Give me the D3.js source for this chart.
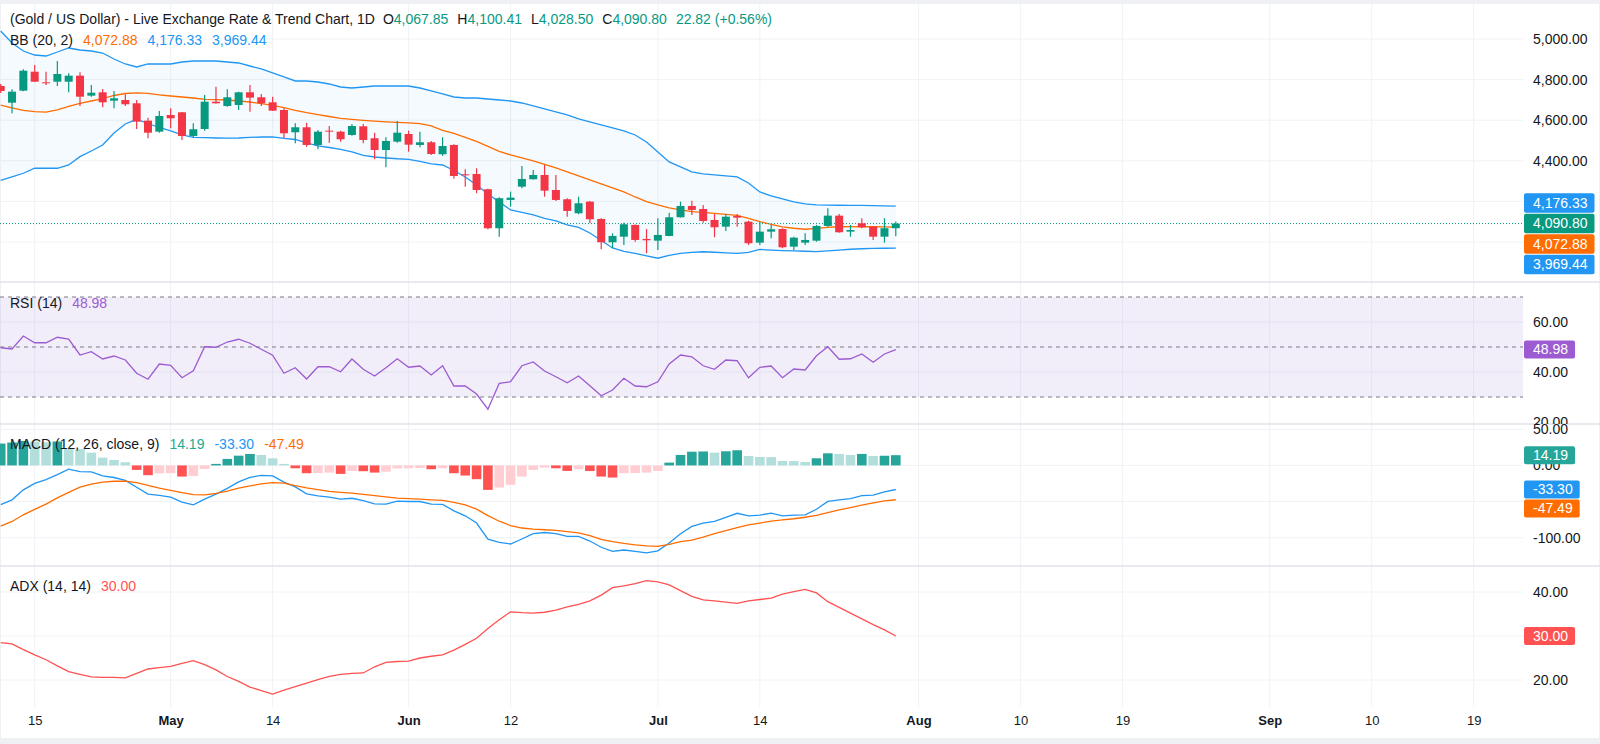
<!DOCTYPE html>
<html lang="en">
<head>
    <meta charset="UTF-8">
    <title>Gold / US Dollar - 1D</title>
    <style>
        body { margin: 0; background: #fff; }
        svg { display: block; font-family: "Liberation Sans", Arial, sans-serif; }
    </style>
</head>
<body>
    <svg id="chart" width="1600" height="744"></svg>

<script src="https://cdn.jsdelivr.net/npm/d3@7"></script>
<script>

    // daily candles, Apr 10 .. Jul 30
    let opens = [4768.5,4686.3,4745.4,4839,4786.7,4789.7,4789.7,4819.3,4720.8,4737.5,
        4696.1,4699.6,4683.3,4597.6,4543.5,4625.7,4639,4522.3,4556.7,4691.2,
        4670,4675,4737.5,4712.9,4688.2,4650.3,4540.5,4565.1,4478,4548.4,
        4543.5,4527.2,4570,4511,4453.3,4494.2,4532.1,4478,4491.2,4432.2,
        4478,4333.6,4335.1,4259.8,4067.7,4207.1,4272.6,4309,4330.2,4256.3,
        4210.5,4141.6,4198.7,4113.5,3998.7,4026.3,4084,4015,4006.6,4029.8,
        4121.9,4177.5,4162.7,4108.6,4075.6,4128.3,4100.2,3996.8,4051,4064.2,
        3977.1,3996.8,4006.6,4079,4129.8,4051,4092.3,4075.6,4026.3,4067.85]
    let highs = [4778.4,4752.3,4850.8,4872,4839,4891.6,4831.1,4836,4773.4,4753.8,
        4743.9,4727.6,4699.6,4612.4,4645.4,4658.7,4641,4584.8,4724.2,4765.1,
        4752.3,4740.5,4773.4,4729.1,4715.8,4658.7,4584.8,4587.8,4551.8,4571.5,
        4548.4,4581.4,4581.4,4538.5,4515.9,4596.1,4548.4,4543.5,4497.6,4515.9,
        4481.4,4358.3,4363.2,4262,4220.4,4248,4374.5,4354.8,4379.4,4330.2,
        4215.4,4223.3,4202.1,4116.5,4043.1,4095.3,4086,4064.2,4117,4144.5,
        4198.7,4203.6,4182.4,4138.1,4138.1,4138.1,4105.1,4100.2,4084,4067.7,
        4026.3,4043.1,4084,4166.2,4138.1,4084,4117,4078,4117,4100.41]
    let lows = [4734,4634.1,4742.4,4788,4773.4,4768.5,4737.5,4670,4715.8,4663.6,
        4658.7,4670,4556.7,4511,4538.5,4560.2,4502.6,4515.9,4548.4,4682,
        4666.6,4650.3,4642,4670,4645,4511,4486.3,4469.6,4456.8,4489.3,
        4494.2,4523.8,4486.3,4407.5,4368.1,4489.3,4445,4466.6,4428.7,4423.8,
        4312,4272.6,4240.1,4062.8,4026.3,4174.1,4264.7,4308,4223.3,4202.1,
        4124.8,4136.6,4092.3,3964.3,3969.2,3985.4,4001.7,3944.6,3960.8,4028,
        4120,4133.2,4095.3,4023.4,4054.4,4075.6,3985.4,3985.4,4018.4,3969.2,
        3960.8,3985.4,4001.7,4075.6,4046,4026.3,4067.7,4010.1,3996.8,4028.5]
    let closes = [4743.9,4740.5,4843.9,4789.7,4781.8,4827.6,4819.3,4715.8,4735.5,4688.2,
        4708,4678.4,4592.7,4538.5,4620.8,4609.4,4522.3,4555.3,4691.2,4683.3,
        4712.9,4737.5,4710.9,4683.3,4646.9,4535.6,4565.1,4478,4543.5,4543.5,
        4506,4571.5,4502.6,4453.3,4497.6,4538.5,4479.4,4491.2,4433.6,4473,
        4325.3,4328.7,4256.3,4067.7,4215.4,4218.4,4310.5,4330.2,4252.9,4207.1,
        4152.9,4190.8,4112,3998.7,4029.8,4087.4,4010.1,4008.5,4034.7,4121.9,
        4177.5,4157.8,4103.6,4072.6,4124.8,4119.9,3993.8,4051,4062.8,3974.1,
        4021.4,4010.1,4079,4129.8,4048,4059.3,4072.6,4026.3,4067.98,4090.80]

    // Bollinger Bands (20, 2)
    let bbUpper = [5039.4,4980.3,4940.9,4921.2,4916.3,4936,4955.7,4945.8,4940.9,4931,
        4901.5,4876.9,4862.1,4876.9,4876.9,4876.9,4886.7,4891.7,4891.7,4891.7,
        4886.7,4881.8,4867,4852.3,4832.6,4812.9,4793.2,4793.2,4788.2,4778.4,
        4763.6,4758.6,4763.6,4768.5,4768.5,4768.5,4768.5,4758.6,4743.9,4729.1,
        4714.3,4709.4,4709.4,4704.5,4699.6,4694.6,4684.8,4670,4655.2,4640.5,
        4625.7,4606,4591.3,4576.5,4561.7,4547,4527.2,4492.8,4443.5,4394.3,
        4369.7,4345,4335.2,4330.2,4325.3,4320.4,4290.8,4246.5,4226.8,4212,
        4197.2,4187.4,4182.4,4181.5,4181,4180.5,4180,4179,4178,4176.33]
    let bbBasis = [4674,4660.2,4647.9,4642,4639.5,4650.3,4667.6,4683.3,4694.6,4706.5,
        4721.7,4731.6,4735,4732.1,4725.2,4719.3,4714.3,4709.4,4702.5,4701.1,
        4699.6,4694.6,4689.7,4681.8,4672.5,4661.7,4647.9,4637,4627.7,4618.3,
        4609.4,4604,4599.1,4595.2,4592.2,4589.7,4587.3,4583.3,4571.5,4549.4,
        4534.6,4514.9,4495.2,4470.6,4446.9,4428.7,4414.9,4399.1,4381.9,4364.7,
        4345,4325.3,4305.6,4285.9,4266.2,4246.5,4221.8,4199.2,4182.4,4167.7,
        4157.8,4149.9,4145.5,4140.6,4135.7,4130.7,4116,4100.2,4086.4,4074.1,
        4067.7,4062.8,4066.7,4071.6,4075.1,4075.6,4075.1,4075.1,4074.1,4072.88]
    let bbLower = [4303.1,4320.3,4338.6,4363.2,4363.2,4363.2,4379.4,4420.3,4448.4,4477.9,
        4537,4581.4,4604.5,4583.8,4564.1,4546.9,4527.2,4514.9,4513.9,4512.4,
        4511.4,4512.4,4514.9,4517.3,4518.3,4510,4505,4487.8,4473,4465.6,
        4456.8,4443.5,4426.2,4418.8,4413.9,4410,4407.5,4396.7,4384.4,4379.4,
        4352.4,4320.3,4280.9,4236.6,4197.2,4157.8,4145.5,4133.2,4116,4103.6,
        4084,4071.6,4044.5,4007.6,3970.7,3953.4,3943.6,3931.3,3920,3933.7,
        3943.6,3948.5,3952,3949.5,3946,3943.6,3948.5,3963.3,3959.8,3957.4,
        3955.9,3954.4,3952.9,3955.9,3959.8,3964.3,3966.7,3968.2,3969.2,3969.44]

    // RSI (14)
    let rsi = [49.7,49.2,54.4,51.7,51.7,53.9,53.2,46.8,48.1,45.2,
        46.4,44.8,39.5,37.1,43.2,42.7,37.7,40.5,50.1,49.9,
        52,53.1,51.5,49.1,46.7,39.5,41.7,37.2,42.1,42.1,
        40.1,45.2,41.1,38.4,41.7,45.3,41.9,42.4,38.8,42.5,
        34.4,34.4,31.2,25.1,35.5,36.1,42.5,44,40.4,38.1,
        35.7,38.4,34.5,30.5,32.8,37.5,34.4,34.1,36.1,43.2,
        46.8,46.1,42.5,41.1,44.8,44.5,37.7,41.9,42.4,37.7,
        41.2,40.8,46.5,50.1,45.1,45.3,47.2,43.9,47.2,48.98]

    // MACD (12, 26, close, 9)
    let macdLine = [-54.1,-47.6,-33.8,-24.8,-19.6,-12.7,-5.2,-8.6,-9,-14.5,
        -16.7,-20.6,-30.1,-39.6,-41.5,-43.9,-50.8,-54.5,-46.6,-39.7,
        -31.7,-22.8,-16.6,-13.8,-14.5,-23,-29.7,-39.3,-42.1,-43.9,
        -46.6,-45.4,-48.6,-53.1,-53.5,-49.4,-49.9,-49.9,-53.5,-53.8,
        -62.8,-69.7,-79.7,-102.1,-106.5,-108.7,-101.8,-94.5,-92.8,-94.5,
        -98.2,-98.2,-104.6,-113.2,-118.9,-117,-118.8,-121.1,-118.2,-107.3,
        -94.5,-84.3,-79.7,-77.5,-72,-66.2,-69.7,-68.7,-66.1,-69.7,
        -68.7,-68.3,-60.7,-49.7,-47.6,-45.8,-41.7,-41.1,-36.6,-33.30]
    let macdSignal = [-84.1,-77.5,-68.3,-60.7,-53.5,-44.8,-37.2,-30.1,-25.8,-23.2,
        -21.9,-21.8,-23.9,-27.6,-31.3,-34.5,-37.7,-40.3,-40.7,-38.6,
        -35.4,-31.4,-28.3,-25.5,-23.7,-24.6,-28,-31,-33.5,-35.9,
        -37.2,-38.3,-40,-41.8,-43.4,-45.1,-45.8,-46.6,-47.6,-48.4,
        -51,-54.5,-60.4,-69.4,-77.2,-83.2,-86.6,-88,-89,-89.9,
        -91.7,-93.4,-97.2,-102.2,-105.5,-108,-109.9,-111.4,-112,-109.2,
        -105.5,-103.3,-99.3,-94.5,-90.3,-86.2,-82.1,-79.7,-77,-75.2,
        -73.8,-71.7,-69.1,-65.2,-61.4,-58.3,-54.9,-51.7,-49,-47.49]
    let macdHist = [30.3,31.7,33.8,32.8,32,33.1,23.7,22.8,17.7,10.8,
        7.6,4.4,-6.2,-13.5,-11,-10.8,-15.4,-14.5,-4.8,2.1,
        9,13.5,15.9,14.5,9.9,2.1,-3.9,-10.8,-10.5,-9.9,
        -11.7,-7.6,-8,-9.9,-8.6,-4.2,-3.9,-3.6,-5.2,-3.9,
        -10.8,-14,-19,-33.8,-30.6,-26.9,-15.4,-6.2,-3,-3.9,
        -7.6,-5.3,-7.8,-15.4,-16.8,-10.8,-10.5,-9.9,-7.6,3.9,
        14.5,19,19.3,17.7,19.6,21,13.1,11.7,11.5,6.2,
        6,4.8,9.9,16.8,15.9,14.5,15.9,13.1,13.4,14.19]

    // ADX (14, 14)
    let adx = [28.5,28.2,26.9,25.7,24.6,23.2,21.9,21.3,20.7,20.6,
        20.6,20.5,21.5,22.5,22.8,23.1,23.8,24.4,23.5,22.3,
        20.8,19.7,18.4,17.6,16.8,17.7,18.5,19.3,20.1,20.8,
        21.3,21.5,21.6,23,24,24.2,24.3,25,25.4,25.7,
        26.8,28.1,29.5,31.7,33.7,35.5,35.3,35.2,35.4,35.9,
        36.6,37.2,38,39.3,41,41.4,41.9,42.6,42.3,41.6,
        40.3,39,38.2,38,37.7,37.4,38,38.3,38.6,39.5,
        40.1,40.6,39.8,37.8,36.5,35.2,33.9,32.6,31.4,30.00]

    // time axis: bar index (past) / day offset (future) and label
    let tickBars = [3, 15, 24, 36, 45, 58, 67, 81, 90, 99, 112, 121, 130]
    let tickLabels = ["15", "May", "14", "Jun", "12", "Jul", "14", "Aug", "10", "19", "Sep", "10", "19"]

    let priceTicks = [4000, 4200, 4400, 4600, 4800, 5000]
    let rsiTicks = [20, 40, 60]
    let macdTicks = [50, 0, -50, -100]
    let adxTicks = [20, 30, 40]

    const green = "#089981", red = "#F23645", blue = "#2196F3", orange = "#FF6D00"
    const purple = "#9C5BD1", adxRed = "#FF5252", ink = "#131722", grid = "#F0F2F6"
    const plotRight = 1523
    const fmt = d3.formatLocale({ decimal: ".", thousands: ",", grouping: [3], currency: ["", ""], minus: "-" }).format(",.2f")
    const n = closes.length
    const last = n - 1

    let svg = d3.select("#chart")
    svg.append("rect").attr("width", 1600).attr("height", 744).attr("fill", "#EEF0F4")
    svg.append("rect").attr("x", 1).attr("y", 4).attr("width", 1598).attr("height", 734).attr("fill", "#fff")

    let x = d3.scaleLinear().domain([0, last]).range([0.7, 895.8])

    let panes = {
        price: [4, 282],
        rsi: [282, 424],
        macd: [424, 566],
        adx: [566, 707]
    }

    let yPrice = d3.scaleLinear().domain([4000, 5000]).range([242, 39])
    let yRsi = d3.scaleLinear().domain([30, 70]).range([397, 297])
    let yMacd = d3.scaleLinear().domain([-100, 50]).range([537.7, 429.3])
    let yAdx = d3.scaleLinear().domain([20, 40]).range([680, 592])

    let defs = svg.append("defs")
    Object.keys(panes).forEach(k => {
        defs.append("clipPath").attr("id", "clip-" + k)
            .append("rect").attr("x", 0).attr("y", panes[k][0])
            .attr("width", plotRight).attr("height", panes[k][1] - panes[k][0])
        defs.append("clipPath").attr("id", "clipaxis-" + k)
            .append("rect").attr("x", plotRight).attr("y", panes[k][0])
            .attr("width", 1600 - plotRight).attr("height", panes[k][1] - panes[k][0])
    })

    // vertical grid
    svg.append("g").selectAll("line").data(tickBars).join("line")
        .attr("x1", d => x(d)).attr("x2", d => x(d))
        .attr("y1", 4).attr("y2", 707)
        .attr("stroke", grid)

    function hGrid(scale, ticks) {
        svg.append("g").selectAll("line").data(ticks).join("line")
            .attr("x1", 0).attr("x2", plotRight)
            .attr("y1", d => scale(d)).attr("y2", d => scale(d))
            .attr("stroke", grid)
    }
    hGrid(yPrice, priceTicks)
    hGrid(yRsi, [40, 60])
    hGrid(yMacd, macdTicks)
    hGrid(yAdx, adxTicks)

    // separators
    svg.append("g").selectAll("line").data([282, 424, 566]).join("line")
        .attr("x1", 0).attr("x2", 1600).attr("y1", d => d).attr("y2", d => d)
        .attr("stroke", "#E0E3EB").attr("stroke-width", 1.5)

    function line(scale, values) {
        return d3.line().x((d, i) => x(i)).y(d => scale(d))(values)
    }

    // ---- price pane
    let price = svg.append("g").attr("clip-path", "url(#clip-price)")

    let band = d3.area()
        .x((d, i) => x(i))
        .y0((d, i) => yPrice(bbLower[i]))
        .y1((d, i) => yPrice(bbUpper[i]))
    price.append("path").attr("d", band(bbUpper)).attr("fill", blue).attr("fill-opacity", 0.05)
    price.append("path").attr("d", line(yPrice, bbUpper)).attr("fill", "none").attr("stroke", blue).attr("stroke-width", 1.3)
    price.append("path").attr("d", line(yPrice, bbLower)).attr("fill", "none").attr("stroke", blue).attr("stroke-width", 1.3)
    price.append("path").attr("d", line(yPrice, bbBasis)).attr("fill", "none").attr("stroke", orange).attr("stroke-width", 1.3)

    price.append("line")
        .attr("x1", 0).attr("x2", plotRight)
        .attr("y1", yPrice(closes[last])).attr("y2", yPrice(closes[last]))
        .attr("stroke", green).attr("stroke-dasharray", "1,2")

    let candles = price.append("g").selectAll("g").data(closes).join("g")
        .attr("fill", (c, i) => c >= opens[i] ? green : red)
        .attr("stroke", (c, i) => c >= opens[i] ? green : red)
    candles.append("line")
        .attr("x1", (c, i) => x(i)).attr("x2", (c, i) => x(i))
        .attr("y1", (c, i) => yPrice(highs[i])).attr("y2", (c, i) => yPrice(lows[i]))
        .attr("stroke-width", 1.2)
    candles.append("rect")
        .attr("x", (c, i) => x(i) - 4)
        .attr("width", 8)
        .attr("y", (c, i) => yPrice(Math.max(c, opens[i])))
        .attr("height", (c, i) => Math.max(1, Math.abs(yPrice(c) - yPrice(opens[i]))))
        .attr("stroke", "none")

    // ---- RSI pane
    let rp = svg.append("g").attr("clip-path", "url(#clip-rsi)")
    rp.append("rect").attr("x", 0).attr("width", plotRight)
        .attr("y", yRsi(70)).attr("height", yRsi(30) - yRsi(70))
        .attr("fill", "#7E57C2").attr("fill-opacity", 0.1)
    rp.selectAll(".lvl").data([70, 50, 30]).join("line")
        .attr("x1", 0).attr("x2", plotRight)
        .attr("y1", d => yRsi(d)).attr("y2", d => yRsi(d))
        .attr("stroke", "#787B86").attr("stroke-dasharray", "4,4")
    rp.append("path").attr("d", line(yRsi, rsi)).attr("fill", "none").attr("stroke", purple).attr("stroke-width", 1.3)

    // ---- MACD pane
    let mp = svg.append("g").attr("clip-path", "url(#clip-macd)")
    mp.selectAll("rect").data(macdHist).join("rect")
        .attr("x", (d, i) => x(i) - 4.8)
        .attr("width", 9.6)
        .attr("y", d => yMacd(Math.max(0, d)))
        .attr("height", d => Math.abs(yMacd(d) - yMacd(0)))
        .attr("fill", (d, i) => {
            let rising = i == 0 || d >= macdHist[i - 1]
            if (d >= 0) return rising ? "#26A69A" : "#B2DFDB"
            return rising ? "#FFCDD2" : "#FF5252"
        })
    mp.append("path").attr("d", line(yMacd, macdLine)).attr("fill", "none").attr("stroke", blue).attr("stroke-width", 1.3)
    mp.append("path").attr("d", line(yMacd, macdSignal)).attr("fill", "none").attr("stroke", orange).attr("stroke-width", 1.3)

    // ---- ADX pane
    let ap = svg.append("g").attr("clip-path", "url(#clip-adx)")
    ap.append("path").attr("d", line(yAdx, adx)).attr("fill", "none").attr("stroke", adxRed).attr("stroke-width", 1.3)

    // ---- value tags on the scale (layout first, so axis labels under them can be hidden)
    function layoutTags(list, anchor, gap) {
        list.sort((a, b) => a.y - b.y)
        let a = list.indexOf(anchor)
        anchor.ty = anchor.y
        for (let k = a - 1; k >= 0; k--) list[k].ty = Math.min(list[k].y, list[k + 1].ty - gap)
        for (let k = a + 1; k < list.length; k++) list[k].ty = Math.max(list[k].y, list[k - 1].ty + gap)
        list.forEach(t => t.h = gap - 1)
        return list
    }

    let closeTag = { y: yPrice(closes[last]), color: green, text: fmt(closes[last]) }
    let priceTags = layoutTags([
        { y: yPrice(bbUpper[last]), color: blue, text: fmt(bbUpper[last]) },
        closeTag,
        { y: yPrice(bbBasis[last]), color: orange, text: fmt(bbBasis[last]) },
        { y: yPrice(bbLower[last]), color: blue, text: fmt(bbLower[last]) }
    ], closeTag, 20.5)

    let rsiTag = { y: yRsi(rsi[last]), color: purple, text: fmt(rsi[last]) }
    let rsiTags = layoutTags([rsiTag], rsiTag, 19)

    let histTag = { y: yMacd(macdHist[last]), color: "#26A69A", text: fmt(macdHist[last]) }
    let macdTags = layoutTags([
        histTag,
        { y: yMacd(macdLine[last]), color: blue, text: fmt(macdLine[last]) },
        { y: yMacd(macdSignal[last]), color: orange, text: fmt(macdSignal[last]) }
    ], histTag, 19)

    let adxTag = { y: yAdx(adx[last]), color: adxRed, text: fmt(adx[last]) }
    let adxTags = layoutTags([adxTag], adxTag, 19)

    // ---- right axes
    function rightAxis(scale, ticks, pane, tagList) {
        let g = svg.append("g")
            .attr("clip-path", `url(#clipaxis-${pane})`)
            .append("g")
            .attr("transform", `translate(${plotRight},0)`)
            .call(d3.axisRight(scale).tickValues(ticks).tickFormat(fmt).tickSize(0).tickPadding(10))
        g.select(".domain").remove()
        g.selectAll("text").attr("font-size", 14).attr("font-family", null).attr("fill", ink)
        g.selectAll(".tick")
            .filter(d => tagList.some(t => Math.abs(scale(d) - t.ty) < 9.5))
            .remove()
    }
    rightAxis(yPrice, priceTicks, "price", priceTags)
    rightAxis(yRsi, rsiTicks, "rsi", rsiTags)
    rightAxis(yMacd, macdTicks, "macd", macdTags)
    rightAxis(yAdx, adxTicks, "adx", adxTags)

    function drawTags(list) {
        list.forEach(t => {
            let g = svg.append("g")
            let r = g.append("rect").attr("fill", t.color).attr("rx", 2)
            let tx = g.append("text").attr("x", plotRight + 10).attr("y", t.ty).attr("dy", "0.35em")
                .attr("font-size", 14).attr("fill", "#fff").text(t.text)
            let w = tx.node().getComputedTextLength()
            r.attr("x", plotRight + 1).attr("y", t.ty - t.h / 2).attr("width", w + 16).attr("height", t.h)
        })
    }
    drawTags(priceTags)
    drawTags(rsiTags)
    drawTags(macdTags)
    drawTags(adxTags)

    // ---- time axis
    let xa = svg.append("g")
        .attr("transform", "translate(0,713)")
        .call(d3.axisBottom(x).tickValues(tickBars).tickFormat((d, i) => tickLabels[i]).tickSize(0).tickPadding(3))
    xa.select(".domain").remove()
    xa.selectAll("text")
        .attr("font-size", 13).attr("font-family", null).attr("fill", ink)
        .attr("font-weight", (d, i) => isNaN(+tickLabels[i]) ? "bold" : null)

    // ---- legends
    function legend(y, parts) {
        let t = svg.append("text").attr("x", 10).attr("y", y).attr("font-size", 14).attr("fill", ink)
        parts.forEach(p => {
            t.append("tspan").attr("dx", p.gap || 0).attr("fill", p.color || ink).text(p.text)
        })
    }

    let change = closes[last] - closes[last - 1]
    let pct = change / closes[last - 1] * 100
    legend(24, [
        { text: "(Gold / US Dollar) - Live Exchange Rate & Trend Chart, 1D" },
        { text: "O", gap: 8 }, { text: fmt(opens[last]), color: green },
        { text: "H", gap: 9 }, { text: fmt(highs[last]), color: green },
        { text: "L", gap: 9 }, { text: fmt(lows[last]), color: green },
        { text: "C", gap: 9 }, { text: fmt(closes[last]), color: green },
        { text: `${fmt(change)} (${change >= 0 ? "+" : ""}${pct.toFixed(2)}%)`, gap: 9, color: green }
    ])
    legend(44.5, [
        { text: "BB (20, 2)" },
        { text: fmt(bbBasis[last]), gap: 10, color: orange },
        { text: fmt(bbUpper[last]), gap: 10, color: blue },
        { text: fmt(bbLower[last]), gap: 10, color: blue }
    ])
    legend(307.5, [
        { text: "RSI (14)" },
        { text: fmt(rsi[last]), gap: 10, color: purple }
    ])
    legend(448.5, [
        { text: "MACD (12, 26, close, 9)" },
        { text: fmt(macdHist[last]), gap: 10, color: "#22AB94" },
        { text: fmt(macdLine[last]), gap: 10, color: blue },
        { text: fmt(macdSignal[last]), gap: 10, color: orange }
    ])
    legend(591, [
        { text: "ADX (14, 14)" },
        { text: fmt(adx[last]), gap: 10, color: adxRed }
    ])

</script>
</body>
</html>
